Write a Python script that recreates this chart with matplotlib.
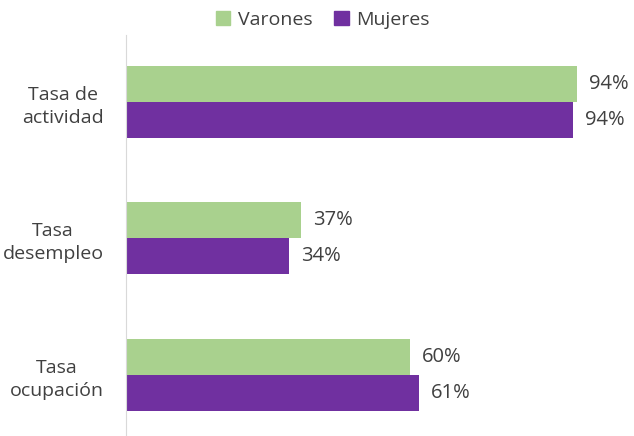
import matplotlib
matplotlib.use("Agg")
import matplotlib.pyplot as plt
from matplotlib.patches import Patch
import numpy as np

categories = ["Tasa de\nactividad", "Tasa\ndesempleo", "Tasa\nocupación"]
varones = [94.5, 36.7, 59.5]
mujeres = [93.7, 34.2, 61.4]
series_names = ["Varones", "Mujeres"]
colors = ["#A9D18E", "#7030A0"]
text_color = "#404040"

plt.rcParams['font.family'] = ['Open Sans', 'DejaVu Sans']

fig = plt.figure(figsize=(6.34, 4.36), dpi=100)
ax = fig.add_axes([126/634, 0, 508/634, 401/436])

y = np.arange(len(categories))
h = 0.264
bv = ax.barh(y - h/2, varones, height=h, color=colors[0])
bm = ax.barh(y + h/2, mujeres, height=h, color=colors[1])

for bars, vals in ((bv, varones), (bm, mujeres)):
    for b, v in zip(bars, vals):
        ax.annotate(f"{round(v):.0f}%", (v, b.get_y() + b.get_height()/2),
                    xytext=(8.5, 0), textcoords="offset points",
                    va="center", ha="left", fontsize=14.5, color=text_color)

ax.set_xlim(0, 106.5)
ax.set_ylim(2.45, -0.49)
ax.set_yticks(y)
ax.set_yticklabels(categories, fontsize=14, color=text_color, linespacing=1.35,
                   multialignment="center", ha="right")
ax.tick_params(axis='y', length=0, pad=16)
ax.set_xticks([])
for s in ["top", "right", "bottom"]:
    ax.spines[s].set_visible(False)
ax.spines["left"].set_color("#D9D9D9")

handles = [Patch(color=c) for c in colors]
fig.legend(handles, series_names, loc="center", bbox_to_anchor=(323/634, 1 - 20/436),
           ncol=2, frameon=False, fontsize=14, labelcolor=text_color,
           handlelength=0.75, handleheight=0.75, handletextpad=0.4, columnspacing=1.1)

fig.savefig("out.png", dpi=100)
